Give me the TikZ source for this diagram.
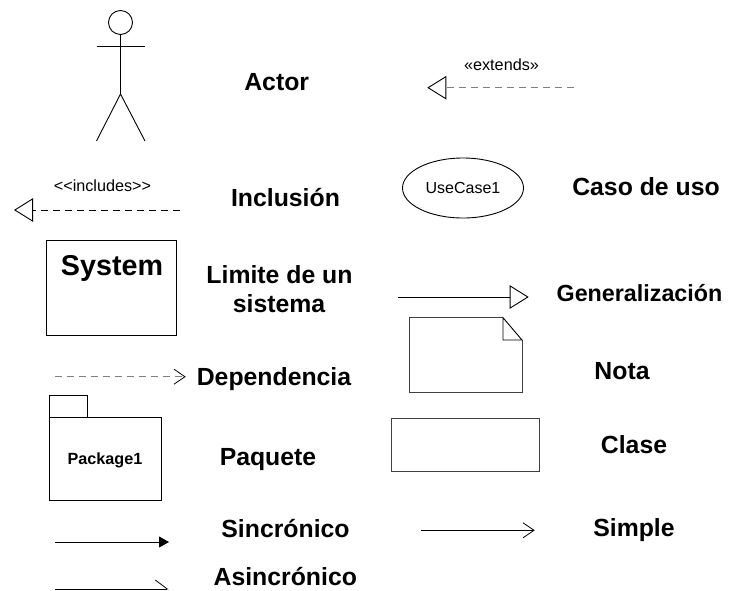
\documentclass[tikz,border=0pt]{standalone}
\usepackage{fontspec}
\setmainfont{Liberation Sans}
\usetikzlibrary{arrows.meta,shapes.geometric}
\tikzset{
  name label/.style={anchor=base,inner sep=0pt,font=\fontsize{24.8}{29}\selectfont\bfseries},
  small label/.style={anchor=base,inner sep=0pt,font=\fontsize{16.2}{19}\selectfont},
  box/.style={draw,outer sep=0pt,inner sep=0pt},
  hollow head/.style={-{Triangle[open,fill=white,color=black,length=19pt,width=23.5pt,line width=0.9pt]}},
  open head/.style={-{Straight Barb[color=black,length=11pt,width=15pt,line width=0.8pt]}},
  dash line/.style={dash pattern=on 7pt off 5pt}
}
\begin{document}
\begin{tikzpicture}[x=1pt,y=-1pt,line width=0.9pt]
\useasboundingbox (0,0) rectangle (736,590);
% actor
\node (head) [box,circle,minimum size=24pt] at (120.5,22.5) {};
\coordinate (hip) at (120.5,94);
\coordinate (armL) at (96.5,46);
\coordinate (armR) at (145,46);
\coordinate (footL) at (96.5,141);
\coordinate (footR) at (145,141);
\draw (head.south) -- (hip);
\draw (armL) -- (armR);
\draw (footL) -- (hip) -- (footR);
\node (actor) [name label] at (276.7,90) {Actor};
% extends
\coordinate (extA) at (574,87.7);
\coordinate (extB) at (427.3,87.7);
\draw [hollow head,gray,dash line] (extA) -- (extB);
\node (extlabel) [small label] at (501.5,70.7) {«extends»};
% includes
\coordinate (incA) at (180,210);
\coordinate (incB) at (14,210);
\draw [hollow head,dash line] (incA) -- (incB);
\node (inclabel) [small label] at (102.5,191.7) {<{}<includes>{}>};
\node (inclusion) [name label] at (285.5,206.7) {Inclusión};
% use case
\node (usecase) [box,ellipse,minimum width=121pt,minimum height=60pt,font=\fontsize{16}{19}\selectfont] at (463,188) {UseCase1};
\node (casouso) [name label] at (646,195) {Caso de uso};
% system
\node (sysbox) [box,minimum width=130.4pt,minimum height=95pt] at (111.5,288.2) {};
\node (system) [anchor=base,inner sep=0pt,font=\fontsize{28.7}{33}\selectfont\bfseries] at (112,275) {System};
\node (limite) [name label] at (279.5,283) {Limite de un};
\node (sistema) [name label] at (279,312) {sistema};
% generalization
\coordinate (genA) at (398,297);
\coordinate (genB) at (528.7,297);
\draw [hollow head] (genA) -- (genB);
\node (general) [name label,font=\fontsize{23.3}{27}\selectfont\bfseries] at (639.5,301.7) {Generalización};
% note
\coordinate (noteA) at (409.3,317.7);
\coordinate (noteB) at (503,317.7);
\coordinate (noteC) at (522,340);
\coordinate (noteD) at (522,392.7);
\coordinate (noteE) at (409.3,392.7);
\coordinate (noteF) at (503,340);
\draw [black!75] (noteB) -- (noteA) -- (noteE) -- (noteD) -- (noteC);
\draw (noteB) -- (noteF) -- (noteC) -- cycle;
\node (nota) [name label] at (622,379.3) {Nota};
% dependency
\coordinate (depA) at (55,376.7);
\coordinate (depB) at (185.7,376.7);
\draw [open head,gray,dash line] (depA) -- (depB);
\node (depend) [name label] at (274,385.7) {Dependencia};
% package
\node (pkgtab) [box,minimum width=38pt,minimum height=22.3pt] at (68.3,406.2) {};
\node (pkgbody) [box,minimum width=112.4pt,minimum height=82.7pt] at (105.5,458.7) {};
\node (pkglabel) [small label,font=\fontsize{16.2}{19}\selectfont\bfseries] at (105,464) {Package1};
\node (paquete) [name label] at (268,465.7) {Paquete};
% class
\node (classbox) [box,black!75,minimum width=148pt,minimum height=52.7pt] at (465.7,444.7) {};
\node (clase) [name label] at (634,453.3) {Clase};
% messages
\coordinate (syncA) at (55,542);
\coordinate (syncB) at (169,542);
\draw [-{Triangle[length=10pt,width=11pt]}] (syncA) -- (syncB);
\node (sincro) [name label] at (285.5,537.3) {Sincrónico};
\coordinate (simpA) at (421.3,530.3);
\coordinate (simpB) at (534.7,530.3);
\draw [open head] (simpA) -- (simpB);
\node (simple) [name label] at (634,536) {Simple};
\coordinate (asynA) at (55,589);
\coordinate (asynB) at (168.5,589);
\draw [-{Straight Barb[left,length=12pt,width=18pt,line width=0.8pt]}] (asynA) -- (asynB);
\node (asincro) [name label] at (285.3,585) {Asincrónico};
\end{tikzpicture}
\end{document}
